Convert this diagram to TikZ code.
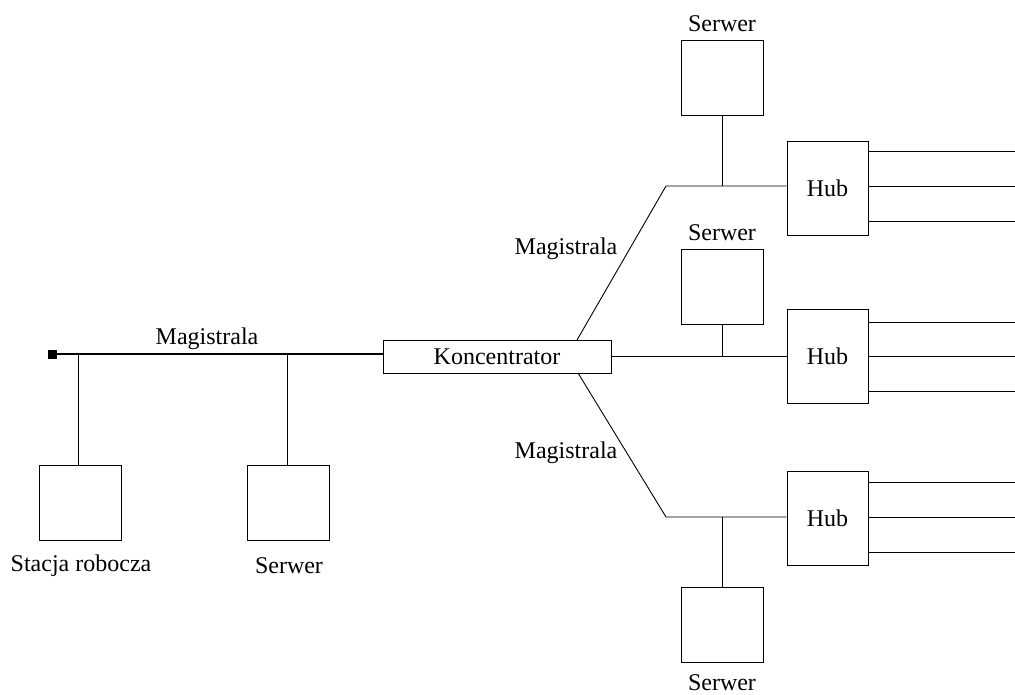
\documentclass[tikz,border=0pt]{standalone}
\usepackage{fontspec}
\setmainfont{Liberation Serif}
\begin{document}
\begin{tikzpicture}[x=1pt,y=-1pt,
  line width=0.9pt,
  box/.style={draw,rectangle,inner sep=0pt,minimum width=82pt,minimum height=75pt},
  hubbox/.style={draw,rectangle,inner sep=0pt,minimum width=81pt,minimum height=94pt,font=\fontsize{24}{28}\selectfont},
  lbl/.style={inner sep=0pt,font=\fontsize{24}{28}\selectfont},
  bus/.style={line width=2.4pt}]
\useasboundingbox (0,0) rectangle (1015,694);

% left segment: bus with workstation and server
\node[draw,fill=black,inner sep=0pt,minimum size=8pt] (term) at (52,354) {};
\node[draw,rectangle,inner sep=0pt,minimum width=228pt,minimum height=33pt,
      font=\fontsize{24}{28}\selectfont] (konc) at (497,356.5) {Koncentrator};
\draw[bus] (term.center) -- (term.center -| konc.west);
\node[lbl] (magL) at (207,339) {Magistrala};

\node[box] (ws) at (80,502.5) {};
\node[box] (srvL) at (288.5,502.5) {};
\node[lbl] (wsT) at (81,566) {Stacja robocza};
\node[lbl] (srvLT) at (289,566) {Serwer};
\coordinate (tapW) at (78,354);
\coordinate (tapS) at (287,354);
\draw (tapW) -- (tapW |- ws.north);
\draw (tapS) -- (tapS |- srvL.north);

% right side: three hubs
\node[hubbox] (hubA) at (827.5,188.5) {Hub};
\node[hubbox] (hubB) at (827.5,356) {Hub};
\node[hubbox] (hubC) at (827.5,518) {Hub};

\node[box] (srvA) at (722.5,78) {};
\node[box] (srvB) at (722.5,286.5) {};
\node[box] (srvC) at (722.5,624.5) {};
\node[lbl] (srvAT) at (722,24) {Serwer};
\node[lbl] (srvBT) at (722,233) {Serwer};
\node[lbl] (srvCT) at (722,683) {Serwer};

% upper branch
\coordinate (kA) at (577,340);
\coordinate (bendA) at (666,186);
\coordinate (tapA) at (722,186);
\draw (kA) -- (bendA) -- (bendA -| hubA.west);
\draw (srvA.south -| tapA) -- (tapA);
\node[lbl] (magA) at (566,249) {Magistrala};

% middle branch
\coordinate (tapB) at (722,356);
\draw (konc.east |- tapB) -- (tapB -| hubB.west);
\draw (srvB.south -| tapB) -- (tapB);

% lower branch
\coordinate (kC) at (578,373);
\coordinate (bendC) at (666,517);
\coordinate (tapC) at (722,517);
\draw (kC) -- (bendC) -- (bendC -| hubC.west);
\draw (tapC) -- (srvC.north -| tapC);
\node[lbl] (magC) at (566,453) {Magistrala};

% hub outputs
\foreach \h/\y in {hubA/151,hubA/186,hubA/221,hubB/322,hubB/356,hubB/391,hubC/482,hubC/517,hubC/552}{
  \coordinate (end-\h-\y) at (1015,\y);
  \draw (\h.east |- end-\h-\y) -- (end-\h-\y);
}
\end{tikzpicture}
\end{document}
